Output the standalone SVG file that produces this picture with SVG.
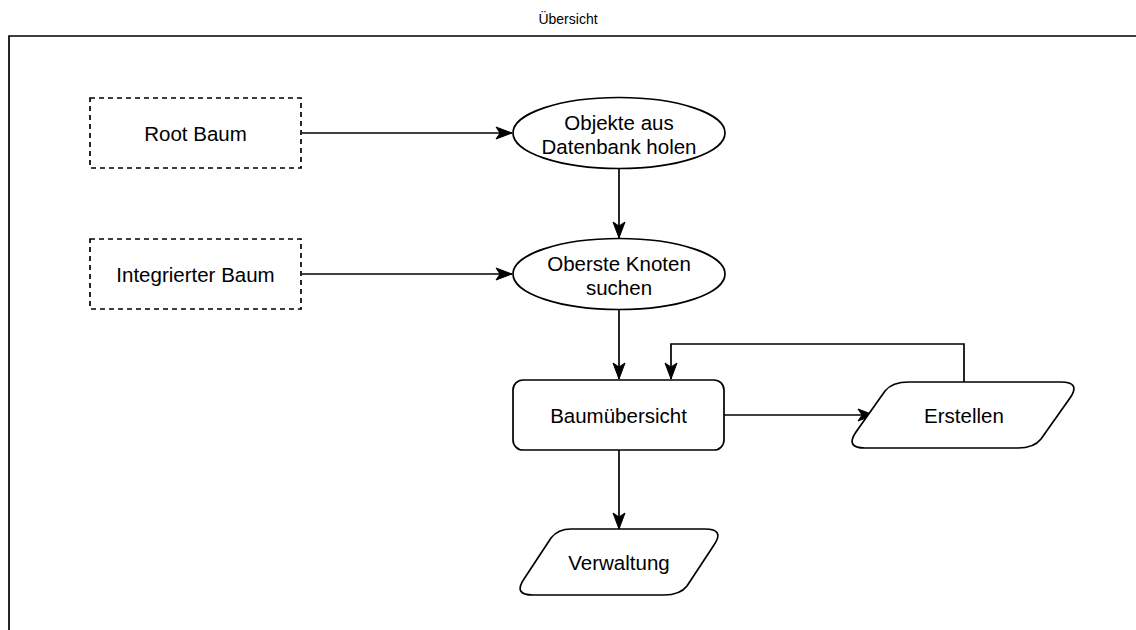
<svg xmlns="http://www.w3.org/2000/svg" width="1136" height="630" viewBox="0 0 1136 630">
  <style>
    text { font-family: "Liberation Sans", Arial, sans-serif; font-size: 20.5px; fill: #000; text-anchor: middle; }
    .shape { fill: #fff; stroke: #000; stroke-width: 1.7; }
    .dashed { stroke-dasharray: 5 4; }
    .edge { fill: none; stroke: #000; stroke-width: 1.7; }
    .title { font-size: 14px; }
  </style>
  <defs>
    <marker id="arrow" markerUnits="userSpaceOnUse" markerWidth="18" markerHeight="14" viewBox="0 0 18 14" refX="17" refY="7" orient="auto">
      <path d="M1,1 L17,7 L1,13 L5,7 Z" fill="#000" stroke="#000" stroke-width="1"/>
    </marker>
  </defs>
  <rect width="1136" height="630" fill="#fff"/>

  <!-- outer frame -->
  <g id="frame">
    <text class="title" x="568" y="24">Übersicht</text>
    <path class="edge" d="M9,640 V36 H1140"/>
  </g>

  <g id="connectors">
    <line class="edge" x1="302" y1="133" x2="512" y2="133" marker-end="url(#arrow)"/>
    <line class="edge" x1="302" y1="274" x2="512" y2="274" marker-end="url(#arrow)"/>
    <line class="edge" x1="619" y1="168" x2="619" y2="238" marker-end="url(#arrow)"/>
    <line class="edge" x1="619" y1="309" x2="619" y2="379" marker-end="url(#arrow)"/>
    <line class="edge" x1="724" y1="415" x2="874" y2="415" marker-end="url(#arrow)"/>
    <polyline class="edge" points="964,382 964,344 671,344 671,379" marker-end="url(#arrow)"/>
    <line class="edge" x1="619" y1="450" x2="619" y2="529" marker-end="url(#arrow)"/>
  </g>

  <g id="root-baum">
    <rect class="shape dashed" x="90" y="98" width="211" height="70"/>
    <text x="195.5" y="140.5">Root Baum</text>
  </g>

  <g id="integrierter-baum">
    <rect class="shape dashed" x="90" y="239" width="211" height="70"/>
    <text x="195.5" y="281.5">Integrierter Baum</text>
  </g>

  <g id="objekte-holen">
    <ellipse class="shape" cx="619" cy="133" rx="106" ry="35.5"/>
    <text x="619" y="130">Objekte aus</text>
    <text x="619" y="154">Datenbank holen</text>
  </g>

  <g id="oberste-knoten">
    <ellipse class="shape" cx="619" cy="274" rx="106" ry="35.5"/>
    <text x="619" y="271">Oberste Knoten</text>
    <text x="619" y="295">suchen</text>
  </g>

  <g id="baumuebersicht">
    <rect class="shape" x="513" y="380" width="211" height="70" rx="10" ry="10"/>
    <text x="618.5" y="422.5">Baumübersicht</text>
  </g>

  <g id="erstellen">
    <path class="shape" d="M909,382 H1061 Q1081,382 1070,398 L1041,439 Q1034,448 1018,448 H865 Q845,448 856,432 L885,391 Q892,382 909,382 Z"/>
    <text x="964" y="422.5">Erstellen</text>
  </g>

  <g id="verwaltung">
    <path class="shape" d="M571,529 H705 Q725,529 714,545 L687,586 Q680,595 664,595 H533 Q513,595 524,579 L551,538 Q558,529 571,529 Z"/>
    <text x="619" y="569.5">Verwaltung</text>
  </g>
</svg>
